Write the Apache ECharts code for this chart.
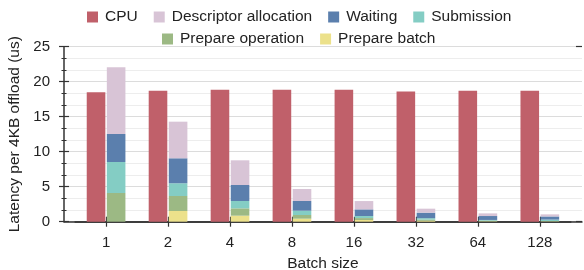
<!DOCTYPE html>
<html>
<head>
<meta charset="UTF-8">
<script src="https://cdn.jsdelivr.net/npm/echarts@6/dist/echarts.min.js"></script>
<style>
  html, body { margin: 0; padding: 0; background: #fff; }
  #main { width: 584px; height: 270px; }
</style>
</head>
<body>
<div id="main"></div>
<script>
// batch sizes on the x axis
var batchSizes = ['1', '2', '4', '8', '16', '32', '64', '128'];

// latency per 4KB offload (us)
var cpu             = [18.5, 18.7, 18.85, 18.85, 18.85, 18.6, 18.7, 18.7];
var prepareBatch    = [0.0, 1.53, 0.86, 0.43, 0.24, 0.12, 0.05, 0.03];
var prepareOp       = [4.1, 2.14, 1.05, 0.53, 0.28, 0.18, 0.1, 0.07];
var submission      = [4.43, 1.82, 1.05, 0.61, 0.29, 0.2, 0.1, 0.2];
var waiting         = [4.0, 3.57, 2.28, 1.39, 0.95, 0.79, 0.56, 0.45];
var descriptorAlloc = [9.53, 5.23, 3.53, 1.71, 1.19, 0.57, 0.38, 0.3];

var colors = {
    cpu: '#c0606a',
    desc: '#d8c4d6',
    wait: '#5b7fad',
    sub: '#84cdc4',
    op: '#9cb984',
    batch: '#ece18b'
};

var font = 'Liberation Sans, Arial, sans-serif';
var txt = '#222';
var axisCol = '#333';

var myChart = echarts.init(document.getElementById('main'));

var barW = 18.6;
var gridTop = 46.7, gridBottom = 48.3;

function barSeries(name, data, color, stack) {
    return {
        name: name,
        type: 'bar',
        stack: stack,
        xAxisIndex: 0,
        yAxisIndex: 0,
        barWidth: barW,
        barGap: '8%',
        itemStyle: { color: color },
        data: data
    };
}

var legendText = { fontSize: 15.5, color: txt, fontFamily: font, padding: [0, 0, 0, 2] };

var option = {
    animation: false,
    textStyle: { fontFamily: font },
    legend: [{
        left: 82,
        top: 4,
        icon: 'rect',
        itemWidth: 11,
        itemHeight: 11,
        itemGap: 16,
        textStyle: legendText,
        data: ['CPU', 'Descriptor allocation', 'Waiting', 'Submission']
    }, {
        left: 157,
        top: 26,
        icon: 'rect',
        itemWidth: 11,
        itemHeight: 11,
        itemGap: 16,
        textStyle: legendText,
        data: ['Prepare operation', 'Prepare batch']
    }],
    grid: [
        // grid 0: bars, category bands centred on the ticks
        { left: 75.1, right: 13.2, top: gridTop, bottom: gridBottom, outerBoundsMode: 'none' },
        // grid 1: full frame with y axis, grid lines and long x axis line
        { left: 64, right: 2, top: gridTop, bottom: gridBottom, outerBoundsMode: 'none' }
    ],
    xAxis: [{
        type: 'category',
        gridIndex: 0,
        data: batchSizes,
        name: 'Batch size',
        nameLocation: 'middle',
        nameGap: 30,
        nameTextStyle: { fontSize: 15.5, color: txt, fontFamily: font },
        axisLine: { show: true, lineStyle: { color: axisCol, width: 1.5 } },
        axisTick: { show: true, alignWithLabel: true, length: 5, lineStyle: { color: axisCol, width: 1.2 } },
        axisLabel: { margin: 14, fontSize: 15, color: txt, fontFamily: font },
        splitLine: { show: false }
    }, {
        // inward half of the crossing x ticks
        type: 'category',
        gridIndex: 0,
        data: batchSizes,
        position: 'bottom',
        axisLine: { show: false },
        axisTick: { show: true, inside: true, alignWithLabel: true, length: 5, lineStyle: { color: axisCol, width: 1.2 } },
        axisLabel: { show: false },
        splitLine: { show: false }
    }, {
        // long x axis line spanning the whole frame
        type: 'value',
        gridIndex: 1,
        min: 0,
        max: 1,
        axisLine: { show: true, onZero: false, lineStyle: { color: axisCol, width: 1.5 } },
        axisTick: { show: false },
        axisLabel: { show: false },
        splitLine: { show: false }
    }],
    yAxis: [{
        type: 'value',
        gridIndex: 0,
        min: 0,
        max: 25,
        show: false
    }, {
        type: 'value',
        gridIndex: 1,
        min: 0,
        max: 25,
        interval: 5,
        name: 'Latency per 4KB offload (us)',
        nameLocation: 'middle',
        nameGap: 32,
        nameTextStyle: { fontSize: 15.5, color: txt, fontFamily: font },
        axisLine: { show: true, onZero: false, lineStyle: { color: axisCol, width: 1.5 } },
        axisTick: { show: true, length: 5, lineStyle: { color: axisCol, width: 1.2 } },
        minorTick: { show: true, splitNumber: 3, length: 2.5, lineStyle: { color: axisCol, width: 1 } },
        axisLabel: { margin: 14, fontSize: 15, color: txt, fontFamily: font },
        splitLine: { show: true, lineStyle: { color: '#dcdcdc', width: 1.2 } },
        minorSplitLine: { show: true, lineStyle: { color: '#ededed', width: 1 } }
    }, {
        // inward half of the crossing y ticks
        type: 'value',
        gridIndex: 1,
        min: 0,
        max: 25,
        interval: 5,
        position: 'left',
        axisLine: { show: false, onZero: false },
        axisTick: { show: true, inside: true, length: 5, lineStyle: { color: axisCol, width: 1.2 } },
        minorTick: { show: true, splitNumber: 3, length: 2.5, lineStyle: { color: axisCol, width: 1 } },
        axisLabel: { show: false },
        splitLine: { show: false }
    }, {
        // short end marks on the right edge of the frame
        type: 'value',
        gridIndex: 1,
        min: 0,
        max: 25,
        interval: 25,
        position: 'right',
        axisLine: { show: false, onZero: false },
        axisTick: { show: true, inside: true, length: 6, lineStyle: { color: axisCol, width: 1.2 } },
        axisLabel: { show: false },
        splitLine: { show: false }
    }],
    series: [
        barSeries('CPU', cpu, colors.cpu, 'cpu'),
        barSeries('Prepare batch', prepareBatch, colors.batch, 'offload'),
        barSeries('Prepare operation', prepareOp, colors.op, 'offload'),
        barSeries('Submission', submission, colors.sub, 'offload'),
        barSeries('Waiting', waiting, colors.wait, 'offload'),
        barSeries('Descriptor allocation', descriptorAlloc, colors.desc, 'offload')
    ]
};

myChart.setOption(option);
</script>
</body>
</html>
